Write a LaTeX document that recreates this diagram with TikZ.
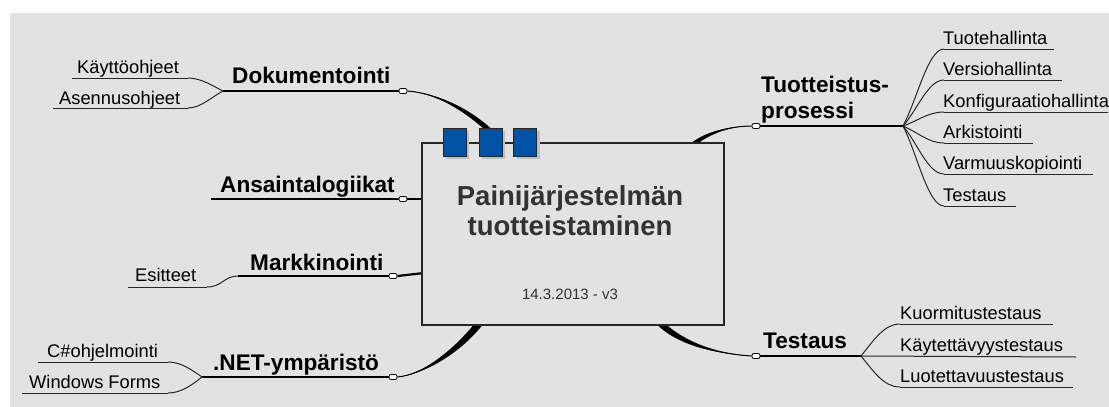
\documentclass[tikz,border=0pt]{standalone}
\usepackage{fontspec}
\setmainfont{Liberation Sans}
\usetikzlibrary{calc}
\definecolor{bg}{RGB}{226,226,226}
\definecolor{titlegray}{RGB}{50,50,50}
\definecolor{sqblue}{RGB}{0,82,164}
\newcommand\taperlink[5]{%
  \fill[black] (#1) .. controls (#2) and ($(#3)!#5!-90:(#4)$) .. ($(#4)!#5!90:(#3)$)
    -- ($(#4)!#5!-90:(#3)$) .. controls ($(#3)!#5!90:(#4)$) and (#2) .. (#1) -- cycle;
  \draw[line width=1pt] (#1) .. controls (#2) and (#3) .. (#4);}
\begin{document}
\begin{tikzpicture}[x=1pt,y=-1pt,
  mainlbl/.style={font=\fontsize{22.6}{24}\selectfont\bfseries, inner sep=0, anchor=base west},
  sublbl/.style={font=\fontsize{18.3}{20}\selectfont, inner sep=0, anchor=base west},
  uline/.style={line width=1.2pt, black},
  subline/.style={line width=1pt, black!85},
  knob/.style={draw=black, fill=white, line width=0.8pt, minimum width=8pt, minimum height=5pt, inner sep=0, rounded corners=2pt},
  sq/.style={draw=black!85, fill=sqblue, line width=0.8pt, minimum width=23pt, minimum height=28pt, inner sep=0},
  sqshadow/.style={fill=black!25, minimum width=23pt, minimum height=28pt, inner sep=0},
  stub/.style={line width=2.2pt, black}]
\useasboundingbox (0,0) rectangle (1109,407);
\fill[white] (0,0) rectangle (1109,407);
\fill[bg] (10,13) rectangle (1109,407);

% ---- coordinates ----
\coordinate (f1) at (223,91);
\coordinate (f2) at (238,276);
\coordinate (f3) at (202,377);
\coordinate (f4) at (903,126);
\coordinate (f5) at (861,356);
\coordinate (d1) at (490,131);
\coordinate (n1) at (482,320);
\coordinate (p1) at (690,147);
\coordinate (s1) at (657,320);
\coordinate (a1) at (424,199);
\coordinate (m1) at (424,273);

% ---- knobs ----
\node[knob] (o1) at (403,91) {};
\node[knob] (o2) at (403,199) {};
\node[knob] (o3) at (393,276) {};
\node[knob] (o4) at (393,377) {};
\node[knob] (o5) at (756,126) {};
\node[knob] (o6) at (756,356) {};

% ---- thick connectors to the centre ----
\taperlink{o1.east}{435,93}{465,108}{d1}{2.5pt}
\draw[stub] (o2.east) -- (a1);
\draw[stub] (o3.east) -- (m1);
\taperlink{o4.east}{420,375}{455,355}{n1}{3.5pt}
\taperlink{o5.west}{730,126}{705,133}{p1}{2.2pt}
\taperlink{o6.west}{720,354}{680,345}{s1}{3.2pt}

% ---- central box ----
\node[draw=black!85, fill=bg, line width=1.2pt, minimum width=302pt, minimum height=182pt, inner sep=0] (box) at (573,234) {};
\node[sqshadow] at (457.5,145) {};
\node[sqshadow] at (493.5,145) {};
\node[sqshadow] at (528,145) {};
\node[sq] (sq1) at (454.5,142) {};
\node[sq] (sq2) at (490.5,142) {};
\node[sq] (sq3) at (525,142) {};
\node[font=\fontsize{27.5}{30}\selectfont\bfseries, text=titlegray, inner sep=0, anchor=base] (t1) at (570,205) {Painijärjestelmän};
\node[font=\fontsize{27.5}{30}\selectfont\bfseries, text=titlegray, inner sep=0, anchor=base] (t2) at (570,235) {tuotteistaminen};
\node[font=\fontsize{15}{17}\selectfont, text=titlegray, inner sep=0, anchor=base] (dt) at (570,299) {14.3.2013 - v3};

% ---- left: Dokumentointi ----
\node[mainlbl] (dok) at (232,83) {Dokumentointi};
\draw[uline] (f1) -- (o1.west);
\node[sublbl] (kay) at (77,73) {Käyttöohjeet};
\coordinate (kayE) at (188,78);
\draw[subline] (72,78) -- (kayE);
\draw[subline] (kayE) .. controls (201,78) and (213,86) .. (f1);
\node[sublbl] (ase) at (59,104) {Asennusohjeet};
\coordinate (aseE) at (188,108);
\draw[subline] (53,108) -- (aseE);
\draw[subline] (aseE) .. controls (201,108) and (213,96) .. (f1);

% ---- left: Ansaintalogiikat ----
\node[mainlbl] (ans) at (220,192) {Ansaintalogiikat};
\coordinate (ansW) at (211,199);
\draw[uline] (ansW) -- (o2.west);

% ---- left: Markkinointi ----
\node[mainlbl] (mar) at (250,270) {Markkinointi};
\draw[uline] (f2) -- (o3.west);
\node[sublbl] (esi) at (135,281) {Esitteet};
\coordinate (esiE) at (207,287);
\draw[subline] (128,287) -- (esiE);
\draw[subline] (esiE) .. controls (222,287) and (224,276) .. (f2);

% ---- left: .NET ----
\node[mainlbl] (net) at (213,370) {.NET-ympäristö};
\draw[uline] (f3) -- (o4.west);
\node[sublbl] (csh) at (47,357) {C\#ohjelmointi};
\coordinate (cshE) at (168,362);
\draw[subline] (38,362) -- (cshE);
\draw[subline] (cshE) .. controls (181,362) and (192,370) .. (f3);
\node[sublbl] (win) at (29,388) {Windows Forms};
\coordinate (winE) at (168,393);
\draw[subline] (22,393) -- (winE);
\draw[subline] (winE) .. controls (181,393) and (192,385) .. (f3);

% ---- right: Tuotteistusprosessi ----
\node[mainlbl] (tp1) at (761,92) {Tuotteistus-};
\node[mainlbl] (tp2) at (761,118) {prosessi};
\draw[uline] (o5.east) -- (f4);
\foreach \name/\txt/\yy/\xe in {r1/Tuotehallinta/49/1054, r2/Versiohallinta/80/1062, r3/Konfiguraatiohallinta/112/1108, r4/Arkistointi/143/1033, r5/Varmuuskopiointi/174/1093, r6/Testaus/206/1016}{
  \node[sublbl] (\name) at (943,\yy-5) {\txt};
  \coordinate (\name S) at (944,\yy);
  \draw[subline] (\name S) -- (\xe,\yy);
  \draw[subline] (f4) .. controls ($(f4)!0.35!(\name S)$) and (928,\yy) .. (\name S);
}

% ---- right: Testaus ----
\node[mainlbl] (tes) at (763,348) {Testaus};
\draw[uline] (o6.east) -- (f5);
\node[sublbl] (kuo) at (900,319) {Kuormitustestaus};
\coordinate (kuoS) at (900,324);
\draw[subline] (kuoS) -- (1053,324);
\draw[subline] (f5) .. controls (874,340) and (884,324) .. (kuoS);
\node[sublbl] (kyt) at (900,351) {Käytettävyystestaus};
\draw[subline] (f5) -- (1076,357);
\node[sublbl] (luo) at (900,382) {Luotettavuustestaus};
\coordinate (luoS) at (900,387);
\draw[subline] (luoS) -- (1073,387);
\draw[subline] (f5) .. controls (874,372) and (884,387) .. (luoS);
\end{tikzpicture}
\end{document}
